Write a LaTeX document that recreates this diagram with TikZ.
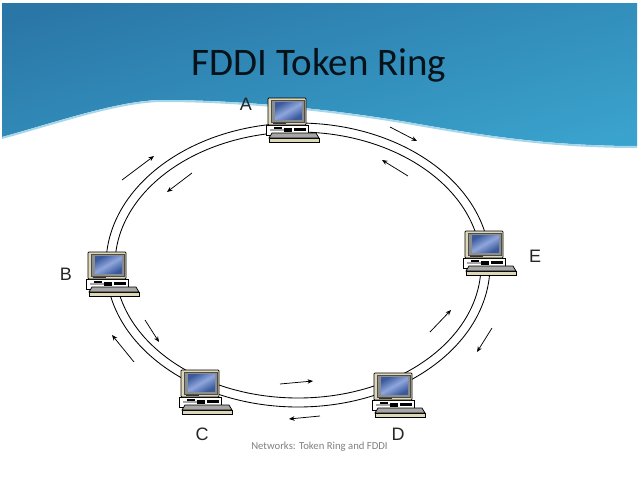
\documentclass[tikz,border=0pt]{standalone}
\usepackage{fontspec}
\setmainfont{Carlito}
\newfontfamily\lblfont{Liberation Sans}
\usetikzlibrary{arrows.meta}
\definecolor{banTop}{HTML}{2A76A6}
\definecolor{banBot}{HTML}{3AA3CD}
\definecolor{beige}{HTML}{DDD8B8}
\definecolor{pcgray}{HTML}{A6A6A6}
\definecolor{scrA}{HTML}{3A5A9C}
\definecolor{scrB}{HTML}{8FA6DC}
\tikzset{
  ringline/.style={draw=black,line width=0.85pt},
  flow/.style={draw=black,line width=0.75pt,-{Stealth[length=5.5pt,width=4.5pt]}},
  letter/.style={font=\lblfont\fontsize{18}{20}\selectfont,text=black!85,inner sep=0pt},
  pcpart/.style={draw=black,line width=0.7pt},
  pics/computer/.style={code={
    % base unit
    \fill[white,pcpart] (-2,27) rectangle (40,37);
    \fill[black] (6,29) rectangle (14,31);
    \fill[black] (16,30) rectangle (24,34);
    \fill[black] (26,30) rectangle (38,33);
    \fill[pcgray] (2,31) rectangle (16,33);
    % monitor
    \fill[beige,pcpart,rounded corners=0.8pt] (0,0) rectangle (38,27);
    \fill[pcgray!85!black,draw=black!70,line width=0.4pt] (3,2) rectangle (36,24);
    \shade[left color=scrA,right color=scrA,middle color=scrB,shading angle=30] (7,4) rectangle (34,21);
    \fill[black!80] (5,24.6) rectangle (18,26.2);
    % keyboard
    \fill[beige,pcpart] (1,40) -- (51,40) -- (51,44) -- (1,44) -- cycle;
    \fill[pcgray,pcpart] (4,35) -- (48,35) -- (51,40) -- (1,40) -- cycle;
  }}
}
\begin{document}
\begin{tikzpicture}[x=1pt,y=-1pt]
\useasboundingbox (0,0) rectangle (638,479);
\fill[white] (0,0) rectangle (638,479);
% banner
\begin{scope}
\clip (2,3) -- (637,3) -- (637,146)
  .. controls (540,146) and (470,133) .. (407,122)
  .. controls (330,109) and (240,100) .. (163,100)
  .. controls (120,100) and (60,121) .. (2,137) -- cycle;
\shade[top color=banTop,bottom color=banBot,shading angle=15] (-20,-10) rectangle (660,160);
\end{scope}
\draw[banBot!45,line width=2pt]
  (637,147) .. controls (540,147) and (470,134) .. (407,123)
  .. controls (330,110) and (240,101) .. (163,101)
  .. controls (120,101) and (60,122) .. (2,138);
\node[font=\fontsize{39}{44}\selectfont,text=black!85!banTop,inner sep=0pt,anchor=base] (title) at (319,75) {FDDI Token Ring};
% ring
\path[ringline] (298,265) ellipse [x radius=192,y radius=142];
\path[ringline] (298,265) ellipse [x radius=183,y radius=133];
% computers
\pic at (268,98) {computer};
\pic at (88,252) {computer};
\pic at (181,370) {computer};
\pic at (374,373) {computer};
\pic at (465,231) {computer};
% letters
\node[letter] (la) at (246,104) {A};
\node[letter] (lb) at (66,274) {B};
\node[letter] (lc) at (202,434) {C};
\node[letter] (ld) at (398,434) {D};
\node[letter] (le) at (535,256) {E};
\node[font=\fontsize{10.7}{12}\selectfont,text=black!50,inner sep=0pt] (foot) at (319.5,447) {Networks: Token Ring and FDDI};
% flow arrows
\coordinate (a1) at (390,127); \coordinate (a2) at (417,141);
\coordinate (b1) at (408,176); \coordinate (b2) at (382,160);
\coordinate (c1) at (192,173); \coordinate (c2) at (167,192);
\coordinate (d1) at (122,180); \coordinate (d2) at (154,156);
\coordinate (e1) at (145,320); \coordinate (e2) at (159,342);
\coordinate (f1) at (134,362); \coordinate (f2) at (112,335);
\coordinate (g1) at (280,384); \coordinate (g2) at (313,381);
\coordinate (h1) at (320,416); \coordinate (h2) at (289,419);
\coordinate (i1) at (430,332); \coordinate (i2) at (451,310);
\coordinate (j1) at (492,328); \coordinate (j2) at (477,352);
\foreach \s/\t in {a1/a2,b1/b2,c1/c2,d1/d2,e1/e2,f1/f2,g1/g2,h1/h2,i1/i2,j1/j2}
  \draw[flow] (\s) -- (\t);
\end{tikzpicture}
\end{document}
